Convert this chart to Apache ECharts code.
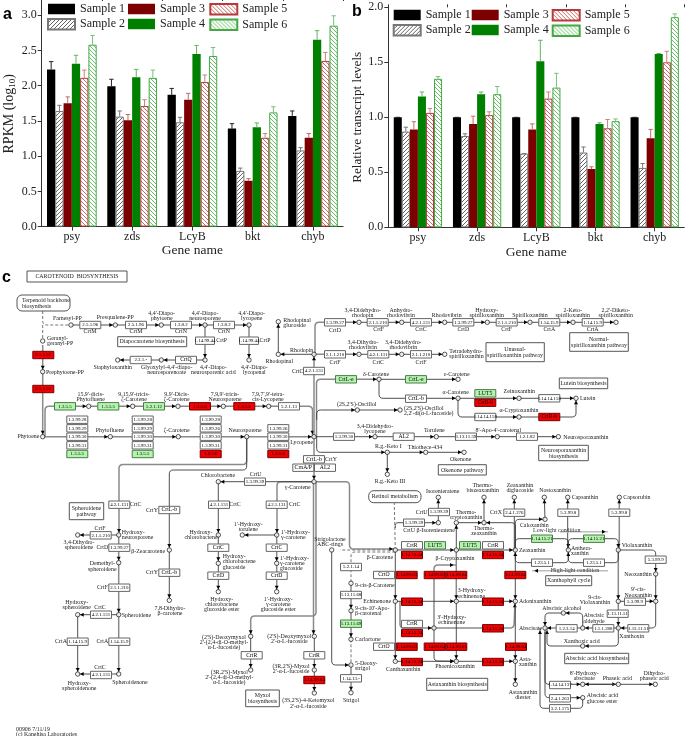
<!DOCTYPE html>
<html><head><meta charset="utf-8">
<style>html,body{margin:0;padding:0;background:#fff}#c{width:685px;height:736px}</style>
<script src="https://cdn.jsdelivr.net/npm/echarts@6/dist/echarts.min.js"></script>
</head><body><div id="c"></div>
<script>
const genes=['psy','zds','LcyB','bkt','chyb'];
const sampleNames=['Sample 1','Sample 2','Sample 3','Sample 4','Sample 5','Sample 6'];
// Panel a: RPKM (log10) means and the top of each error bar
const rpkmS1=[2.23,1.99,1.87,1.39,1.57], rpkmS1Top=[2.34,2.09,1.96,1.46,1.64];
const rpkmS2=[1.64,1.56,1.48,0.79,1.08], rpkmS2Top=[1.72,1.64,1.55,0.83,1.12];
const rpkmS3=[1.75,1.51,1.80,0.65,1.26], rpkmS3Top=[1.84,1.59,1.89,0.68,1.32];
const rpkmS4=[2.31,2.12,2.45,1.41,2.65], rpkmS4Top=[2.43,2.23,2.57,1.47,2.78];
const rpkmS5=[2.11,1.71,2.05,1.26,2.35], rpkmS5Top=[2.22,1.80,2.15,1.32,2.47];
const rpkmS6=[2.58,2.11,2.42,1.62,2.85], rpkmS6Top=[2.71,2.22,2.54,1.70,2.99];
// Panel b: relative transcript levels
const relS1=[1,1,1,1,1], relS1Top=[1,1,1,1,1];
const relS2=[0.87,0.83,0.67,0.68,0.54], relS2Top=[0.91,0.85,0.67,0.73,0.58];
const relS3=[0.89,0.94,0.89,0.53,0.81], relS3Top=[0.96,1.01,0.94,0.55,0.89];
const relS4=[1.19,1.21,1.51,0.94,1.575], relS4Top=[1.23,1.23,1.70,0.95,1.58];
const relS5=[1.04,1.02,1.17,0.90,1.50], relS5Top=[1.08,1.05,1.23,0.98,1.60];
const relS6=[1.35,1.21,1.27,0.965,1.91], relS6Top=[1.37,1.28,1.40,0.985,1.94];
const rpkmMeans=[rpkmS1,rpkmS2,rpkmS3,rpkmS4,rpkmS5,rpkmS6], rpkmTops=[rpkmS1Top,rpkmS2Top,rpkmS3Top,rpkmS4Top,rpkmS5Top,rpkmS6Top];
const relMeans=[relS1,relS2,relS3,relS4,relS5,relS6], relTops=[relS1Top,relS2Top,relS3Top,relS4Top,relS5Top,relS6Top];

// Panel c: KEGG map layout, in map units
const whiteEnzymes=[[90.3,325,'2.5.1.96'],[136,325,'2.5.1.96'],[181,325,'1.3.8.2'],[224,325,'1.3.8.2'],[205,340.7,'1.14.99.44'],[249,340.7,'1.14.99.44'],[140.7,360,'2.3.1.-'],[186,360,'CrtQ'],[289,406.3,'5.2.1.13'],
[77.3,419.7,'1.3.99.28'],[77.3,428.3,'1.3.99.29'],[77.3,436.7,'1.3.99.30'],[77.3,445.3,'1.3.99.31'],[142.7,419.7,'1.3.99.28'],[142.7,428.3,'1.3.99.29'],[142.7,436.7,'1.3.99.30'],[142.7,445.3,'1.3.99.31'],
[210.7,419.7,'1.3.99.28'],[210.7,428.3,'1.3.99.26'],[210.7,436.7,'1.3.99.30'],[210.7,445.3,'1.3.99.31'],[278.3,428.3,'1.3.99.26'],[278.3,436.7,'1.3.99.30'],[278.3,445.3,'1.3.99.31'],[344,436.7,'1.3.99.30'],
[314,459.3,'CrtL-b'],[303.3,467.7,'CrnA/P'],[325,467.7,'AL2'],[255,481.7,'1.3.99.39'],[335,322.3,'1.3.99.27'],[335,354.3,'2.1.1.210'],[314,371,'4.2.1.131'],
[377.7,322.3,'2.1.1.210'],[421,322.3,'4.2.1.131'],[463.3,322.3,'1.3.99.27'],[506.7,322.3,'2.1.1.210'],[549.3,322.3,'1.14.15.9'],[592.7,322.3,'1.14.15.9'],[378.3,354.3,'4.2.1.131'],[421,354.3,'2.1.1.210'],
[416,398.7,'CrtL-b'],[485.3,417,'1.14.14.158'],[549.3,398.3,'1.14.14.158'],[403.7,436.7,'AL2'],[466,436.7,'1.13.11.59'],[527,436.7,'1.2.1.82'],
[119.3,504.7,'4.2.1.131'],[169.3,510,'CrtL-b'],[219,504.7,'4.2.1.131'],[276.7,504.7,'4.2.1.131'],[100.7,535.3,'2.1.1.210'],[119.3,547.7,'1.3.99.27'],[218.3,547.7,'CrtC'],[276.7,547.7,'CrtC'],[218.3,575.7,'CrtD'],[276.7,575.7,'CrtD'],[169.3,572.7,'CrtL-b'],[119.3,587.7,'2.1.1.210'],[101,614.7,'4.2.1.131'],[77.7,641.7,'1.14.15.9'],[119.3,641.7,'1.14.15.9'],[101,675,'4.2.1.131'],[251.7,655.3,'CrtR'],[314.3,655.3,'CrtR'],
[439,512,'1.3.99.39'],[414,522.7,'1.3.99.39'],[514.3,512.7,'2.4.1.276'],[568.3,512.7,'5.3.99.8'],[619.3,512.7,'5.3.99.8'],[412,545.3,'CrtR'],[493,545.3,'CrtR'],[542,562.7,'1.23.5.1'],[594,562.7,'1.23.5.1'],[655.7,559.7,'5.3.99.9'],[384,575,'CrtO'],[351,567,'5.2.1.14'],[351,595,'1.13.11.68'],[635,601.7,'5.3.99.9'],[617.7,613.7,'1.13.11.51'],[412,624,'CrtR'],[566.7,628.3,'1.2.3.14'],[603.3,628.3,'1.1.1.288'],[638.3,628.3,'1.13.11.51'],[384,646.7,'CrtO'],[351,678.3,'1.14.13.-'],[560,685,'1.14.14.137'],[560,698.3,'2.4.1.263'],[560,708.3,'3.2.1.175']];
const greenEnzymes=[[65,406.3,'1.3.5.5'],[108.3,406.3,'1.3.5.5'],[154,406.3,'5.2.1.12'],[77.3,454,'1.3.5.5'],[142.7,454,'1.3.5.5'],[346,379.3,'CrtL-e'],[416,379.3,'CrtL-e'],[485.3,393.3,'LUT5'],[435,545.3,'LUT5'],[470,545.3,'LUT5'],[542,538.7,'1.14.15.21'],[594,538.7,'1.14.15.21'],[351,623.7,'1.13.11.69']];
const redEnzymes=[[43.3,355,'2.5.1.32'],[43.3,389,'2.5.1.32'],[200,406.3,'1.3.5.6'],[244.3,406.3,'1.3.5.6'],[210.7,454,'1.3.5.6'],[278.3,454,'1.3.5.6'],[485.3,402.7,'CrtR-b'],[549.3,417,'CrtR-b'],[314.3,680,'1.14.99.64'],
[412,555,'1.14.15.24'],[493,555,'1.14.15.24'],[406.7,575,'1.14.99.63'],[434.7,575,'1.14.99.63'],[456.3,575,'1.14.99.64'],[515.3,575,'1.14.99.64'],[412,601.7,'1.14.15.24'],[493,601.7,'1.14.15.24'],[412,633,'1.14.15.24'],[493,628.3,'1.14.15.24'],[406.7,646.7,'1.14.99.63'],[434.7,646.7,'1.14.99.64'],[456.3,646.7,'1.14.99.63'],[516,646.7,'1.14.99.64'],[412,662,'1.14.15.24'],[493,662,'1.14.15.24']];
// [left, top, right, bottom]
const mapBoxes=[[27,271,127,282],[117.7,336.7,186.7,346.7],[486,342.7,544.3,361.7],[569.7,332.7,628.3,351.3],[559.3,378,607.7,388.7],[538.7,445.3,588.3,460.7],[438.3,464.7,486.3,475],[69.3,502.7,103.7,519.7],[245.7,690,279.3,706.7],[545.7,575.7,591.7,585.7],[426.7,678.3,487.7,690.3],[564.7,653.3,628.7,663.7]];
const mapRounded=[[17,295,70,311],[368.7,490.7,421,502.7]];
const centerLabels=[[77,276.5,'CAROTENOID  BIOSYNTHESIS'],[152,341.7,'Diapocarotene biosynthesis'],[515,349,'Unusual-'],[515,355,'spirilloxanthin pathway'],[599,339,'Normal-'],[599,345,'spirilloxanthin pathway'],[583.5,383.3,'Lutein biosynthesis'],[563.5,450,'Neurosporaxanthin'],[563.5,456,'biosynthesis'],[462.3,470,'Okenone pathway'],[86.5,508,'Spheroidene'],[86.5,514,'pathway'],[262.5,695.5,'Myxol'],[262.5,701.5,'biosynthesis'],[568.7,580.7,'Xanthophyll cycle'],[457.2,684.3,'Astaxanthin biosynthesis'],[596.7,658.5,'Abscisic acid biosynthesis'],[394.8,496.7,'Retinol metabolism'],
[90,331.7,'CrtM'],[136,331.7,'CrtM'],[181,331.7,'CrtN'],[224,331.7,'CrtN'],[221.7,340.7,'CrtP'],[265,340.7,'CrtP'],[331,459.3,'CrtY'],[255.7,474,'CrtU'],[335,330,'CrtD'],[335,362.3,'CrtF'],[297.7,371,'CrtC'],[378.7,329.7,'CrtF'],[421,329.7,'CrtC'],[463.3,329.7,'CrtD'],[506.7,329.7,'CrtF'],[549.3,329.7,'CrtA'],[592.7,329.7,'CrtA'],[378.3,362.3,'CrtC'],[421,362.3,'CrtF'],
[135.7,504.7,'CrtC'],[152,510,'CrtY'],[235,504.7,'CrtC'],[294.7,504.7,'CrtC'],[100,528,'CrtF'],[102.3,547.7,'CrtD'],[152,572.7,'CrtY'],[102.3,587.7,'CrtF'],[100,607.3,'CrtC'],[61,641.7,'CrtA'],[102.3,641.7,'CrtA'],[100,667.7,'CrtC'],[421.7,512,'CrtU'],[429,530,'CrtU β-Isorenieratene'],[496,512.7,'CrtX'],
[67.3,318.3,'Farnesyl-PP'],[115.3,317.7,'Presqualene-PP'],[161.7,313.3,"4,4'-Diapo-"],[161.7,318.3,'phytoene'],[205,313.3,"4,4'-Diapo-"],[205,318.3,'neurosporene'],[251.7,313.3,"4,4'-Diapo-"],[251.7,318.3,'lycopene'],
[112.7,367.7,'Staphyloxanthin'],[166.7,367.7,"Glyoxylyl-4,4'-diapo-"],[166.7,372.7,'neurosporenoate'],[213.3,367.7,"4,4'-Diapo-"],[213.3,372.7,'neurosporenic acid'],[254.3,367.7,"4,4'-Diapo-"],[254.3,372.7,'lycopenal'],
[90.7,394.3,"15,9'-dicis-"],[90.7,399.3,'Phytofluene'],[134,394.3,"9,15,9'-tricis-"],[134,399.3,'ζ-Carotene'],[176.7,394.3,"9,9'-Dicis-"],[176.7,399.3,'ζ-Carotene'],[225,394.3,"7,9,9'-tricis-"],[225,399.3,'Neurosporene'],[268,394.3,"7,9,7',9'-tetra-"],[268,399.3,'cis-Lycopene'],
[110,430,'Phytofluene'],[176.7,430,'ζ-Carotene'],[245,430,'Neurosporene'],[301.7,442.3,'Lycopene'],[375,426,'3,4-Didehydro-'],[375,431,'lycopene'],[434.3,430.7,'Torulene'],[498.3,430,"8'-Apo-4'-carotenal"],[301.7,350,'Rhodopin'],[279.3,361.7,'Rhodopinal'],
[363,342.7,'3,4-Dihydro-'],[363,347.7,'rhodovibrin'],[403.3,342.7,'3,4-Didehydro-'],[403.3,347.7,'rhodovibrin'],[362.7,310.3,'3,4-Didehydro-'],[362.7,315.7,'rhodopin'],[401,310.3,'Anhydro-'],[401,315.7,'rhodovibrin'],[446.7,315,'Rhodovibrin'],[486.7,310,'Hydroxy-'],[486.7,315,'spirilloxanthin'],[530,315,'Spirilloxanthin'],[572.7,310,'2-Keto-'],[572.7,315,'spirilloxanthin'],[615.7,310,"2,2'-Diketo-"],[615.7,315,'spirilloxanthin'],
[376,374,'δ-Carotene'],[456.7,374,'ε-Carotene'],[455.7,392,'α-Carotene'],[519.3,391.7,'Zeinoxanthin'],[519,410.3,'α-Cryptoxanthin'],[356.7,404,"(2S,2'S)-Oscillol"],[388.3,446.3,'R.g.-Keto I'],[425,447,'Thiothece-434'],[460.7,459,'Okenone'],[390,481.7,'R.g.-Keto III'],
[218,475.7,'Chlorobactene'],[297.7,487.3,'γ-Carotene'],[201,532.7,'Hydroxy-'],[201,537.7,'chlorobactene'],[248.3,524,"1'-Hydroxy-"],[248.3,529,'torulene'],[221.7,599.3,'Hydroxy-'],[221.7,604.3,'chlorobactene'],[221.7,609.3,'glucoside ester'],[278.3,599.3,"1'-Hydroxy-"],[278.3,604.3,'γ-carotene'],[278.3,609.3,'glucoside ester'],
[79,542.7,'3,4-Dihydro-'],[79,547.7,'spheroidene'],[102.3,563.3,'Demethyl-'],[102.3,569,'spheroidene'],[76.7,602.7,'Hydroxy-'],[76.7,607.7,'spheroidene'],[130,682.7,'Spheroidenone'],[79.3,683,'Hydroxy-'],[79.3,688.3,'spheroidenone'],[170,608,'7,8-Dihydro-'],[170,613.3,'β-carotene'],
[224,637.3,"(2'S)-Deoxymyxol"],[224,642.3,"2'-(2,4-di-O-methyl-"],[224,647.3,'α-L-fucoside)'],[229.3,672.3,"(3R,2'S)-Myxol"],[229.3,677.3,"2'-(2,4-di-O-methyl-"],[229.3,682.3,'α-L-fucoside)'],[289.3,636,"(2'S)-Deoxymyxol"],[289.3,641,"2'-α-L-fucoside"],[291,666.7,"(3R,2'S)-Myxol"],[291,671.7,"2'-α-L-fucoside"],[308.3,700.7,"(3S,2'S)-4-Ketomyxol"],[308.3,706,"2'-α-L-fucoside"],
[330,539,'Strigolactone'],[330,544,'ABC-rings'],[351,700.7,'Strigol'],[455,558.3,'β-Cryptoxanthin'],[471.7,590.7,'3-Hydroxy-'],[471.7,596,'echinenone'],[451.7,617.3,"3'-Hydroxy-"],[451.7,622.7,'echinenone'],[403.3,669,'Canthaxanthin'],[455,666.7,'Phoenicoxanthin'],[523,692.3,'Astaxanthin'],[523,697.3,'diester'],
[466,512,'Thermo-'],[466,517.3,'cryptoxanthin'],[484,528.3,'Thermo-'],[484,533.3,'zeaxanthin'],[534.3,525,'Caloxanthin'],[442.7,491,'Isorenieratene'],[482.7,485.7,'Thermo-'],[482.7,490.7,'biszeaxanthin'],[520,485.7,'Zeaxanthin'],[520,490.7,'diglucoside'],[555,490,'Nostoxanthin'],
[638.3,589.3,"9'-cis-"],[638.3,595,'Neoxanthin'],[595,597.7,'9-cis-'],[595,602.7,'Violaxanthin'],[631.7,636,'Xanthoxin'],[594,615.7,'Abscisic'],[594,621,'aldehyde'],[561.7,608,'Abscisic alcohol'],[581.7,641,'Xanthoxic acid'],[584.3,673.3,"8'-Hydroxy-"],[584.3,678.7,'abscisate'],[617.3,678.3,'Phaseic acid'],[654.3,673.3,'Dihydro-'],[654.3,678.7,'phaseic acid']];
const leftLabels=[[22,300.7,'Terpenoid backbone'],[22,306,'biosynthesis'],[47,338.3,'Geranyl-'],[47,343.7,'geranyl-PP'],[46,372.3,'Prephytoene-PP'],[283.3,320.7,'Rhodopinal'],[283.3,325.7,'glucoside'],[449.3,351.7,'Tetradehydro-'],[449.3,356.7,'spirilloxanthin'],[580,398.5,'Lutein'],[404,408.3,"(2S,2'S)-Oscillol"],[404,413.3,"2,2'-di(α-L-fucoside)"],[563.3,437,'Neurosporaxanthin'],
[121.7,532.3,'Hydroxy-'],[121.7,537.7,'neurosporene'],[222.7,556.7,'Hydroxy-'],[222.7,561.7,'chlorobactene'],[222.7,567.3,'glucoside'],[281,532,"1'-Hydroxy-"],[281,537.3,'γ-carotene'],[280,558.3,"1'-Hydroxy-"],[280,563.3,'γ-carotene'],[280,568.3,'glucoside'],[121.7,615,'Spheroidene'],
[355,585,'9-cis-β-Carotene'],[355,608.3,"9-cis-10'-Apo-"],[355,613.7,'β-carotenal'],[355,639.5,'Carlactone'],[355,663,'5-Deoxy-'],[355,668.3,'strigol'],[519,550.7,'Zeaxanthin'],[519,601.8,'Adonixanthin'],[519,659,'Asta-'],[519,664,'xanthin'],[571,548.3,'Anthera-'],[571,553.3,'xanthin'],[621.7,545.7,'Violaxanthin'],[571.7,497.5,'Capsanthin'],[623.3,497.5,'Capsorubin'],[586.7,695.7,'Abscisic acid'],[586.7,701,'glucose ester']];
const rightLabels=[[39.3,436.7,'Phytoene'],[165,551.5,'β-Zeacarotene'],[393,557.3,'β-Carotene'],[391,601,'Echinenone'],[651.7,574,'Neoxanthin'],[542,628,'Abscisate']];
const footerLabels=[[16,729,'00906 7/11/19'],[16,734,'(c) Kanehisa Laboratories']];
const greyLabels=[[556.7,530.7,'Low-light condition'],[575,570.7,'High-light condition']];

const metabolites=[[71,325],[115.3,325],[161.3,325],[205,325],[249,325],[42.7,341],[205,360],[249,360],[161.3,360],[117.7,360],[42.7,371.7],[42.7,436.7],[88.7,406.3],[132.7,406.3],[178,406.3],[223.3,406.3],[268.7,406.3],[110.3,436.7],[178.3,436.7],[246.7,436.7],[314,436.7],[375,436.7],[436.3,436.7],[497.3,436.7],[558.3,436.7],[314,354.3],[359,354.3],[401.7,354.3],[444.7,354.3],[278.3,354.3],[278.3,321.7],[359,322.3],[401.7,322.3],[444.7,322.3],[487.3,322.3],[530,322.3],[573,322.3],[616,322.3],[379,379.3],[458,379.3],[458,398.3],[519,398.3],[576,398.3],[519,417],[357.3,410],[400,410],[387.3,452.3],[425.7,452.3],[464,452.3],[387.3,474.3],[314,481.7],[218.3,481.7],
[218.3,535],[218.3,563.3],[218.3,591.7],[276.7,535],[242.3,535],[276.7,563.3],[276.7,591.7],[118.7,535],[77.7,535],[118.7,562.7],[118.7,614.7],[77.7,614.7],[118.7,674],[77.7,674],[169.3,550],[169.3,600.3],[250.7,636.3],[250.7,670],[314.3,636.3],[314.3,670],[314.3,693],[331.7,550],[395.3,550],[351,583.3],[351,610.7],[351,639.3],[351,665],[351,692.7],[456.3,550],[515.3,550],[395.3,601.3],[456.3,601.3],[515.3,601.3],[434,628],[395.3,661.3],[456.3,661.3],[515.3,661.3],[515.3,684.3],[456.3,522.7],[484,522.7],[438.3,522.7],[545,519.3],[438.3,497.3],[484,497.3],[514.3,497.3],[544.3,497.3],[567.7,497.3],[619.3,497.3],[568.3,550],[618.3,550],[655.7,574],[655.7,601.3],[618.3,601.3],[618.3,628],[582.7,628],[545,628],[563.3,613],[582.7,646],[582.7,684.3],[618.3,684.3],[655.3,684.3],[582.7,697.7]];

// each polyline is a list of x,y pairs through the map
const arrowLines=[[71,325,115.3,325],[115.3,325,161.3,325],[161.3,325,205,325],[205,325,249,325],[205,325,205,360],[249,325,249,360],[205,360,161.3,360],[161.3,360,117.7,360],
[314,354.3,278.3,354.3],[278.3,354.3,278.3,321.7],[359,354.3,401.7,354.3],[401.7,354.3,444.7,354.3],[359,322.3,401.7,322.3],[401.7,322.3,444.7,322.3],[444.7,322.3,487.3,322.3],[487.3,322.3,530,322.3],[530,322.3,573,322.3],[573,322.3,616,322.3],
[379,379.3,458,379.3],[379,379.3,379,398.3,458,398.3],[458,398.3,519,398.3],[519,398.3,576,398.3],[458,398.3,458,417,519,417],[519,417,576,417,576,398.3],[357.3,410,400,410],[316.7,420,316.7,410,357.3,410],
[314,436.7,375,436.7],[375,436.7,436.3,436.7],[436.3,436.7,497.3,436.7],[497.3,436.7,558.3,436.7],[316.7,436.7,316.7,452.3,387.3,452.3],[387.3,452.3,425.7,452.3],[425.7,452.3,464,452.3],[387.3,452.3,387.3,474.3],
[314,481.7,218.3,481.7],[218.3,481.7,218.3,535],[218.3,535,218.3,563.3],[218.3,563.3,218.3,591.7],[276.7,535,242.3,535],[246.7,436.7,246.7,470,169.3,470,169.3,550],[169.3,550,169.3,600.3],
[118.7,535,77.7,535],[118.7,614.7,77.7,614.7],[118.7,674,77.7,674],[77.7,614.7,77.7,674],[250.7,636.3,250.7,670],[314.3,636.3,314.3,670],[314.3,670,314.3,693],
[331.7,550,331.7,665,351,665],[395.3,601.3,456.3,601.3],[456.3,601.3,515.3,601.3],[395.3,661.3,456.3,661.3],[456.3,661.3,515.3,661.3],[515.3,661.3,515.3,684.3],[456.3,601.3,456.3,661.3],[395.3,550,395.3,601.3],[395.3,601.3,395.3,661.3],[515.3,550,515.3,601.3],[515.3,601.3,515.3,661.3],[456.3,550,515.3,550],
[434,628,434,661,456.3,661.3],[395.3,528,395.3,522.7,438.3,522.7],[456.3,550,456.3,522.7],[456.3,522.7,484,522.7],[515.3,550,515.3,522.7,484,522.7],[515.3,550,515.3,519.3,545,519.3],[438.3,522.7,438.3,497.3],[484,522.7,484,497.3],[514.3,550,514.3,497.3],[545,519.3,544.3,497.3],[567.7,550,567.7,497.3],
[515.3,550,515.3,538.7,568.3,538.7,568.3,550],[568.3,550,568.3,562.7,515.3,562.7,515.3,550],[568.3,550,568.3,538.7,618.3,538.7,618.3,550],[618.3,550,618.3,562.7,568.3,562.7,568.3,550],[618.3,550,655.7,550,655.7,574],[655.7,574,655.7,601.3],[618.3,601.3,655.7,601.3],[655.7,601.3,655.7,628,618.3,628],[618.3,628,582.7,628],[582.7,628,545,628],[582.7,628,582.7,613,563.3,613],[563.3,613,545,613,545,628],[618.3,628,618.3,646,582.7,646],[582.7,646,547,646,547,628],[545,628,545,684.3,582.7,684.3],[582.7,684.3,618.3,684.3],[618.3,684.3,582.7,684.3],[618.3,684.3,655.3,684.3],[545,632,545,697.7,582.7,697.7],[582.7,697.7,582.7,708.3,540,708.3,540,628],[351,583.3,351,610.7],[351,610.7,351,639.3],[351,665,351,692.7]];
const heavyLines=[[42.7,345,42.7,371.7],[42.7,371.7,42.7,436.7],[45,436.7,45,406.3,88.7,406.3],[88.7,406.3,132.7,406.3],[132.7,406.3,178,406.3],[178,406.3,223.3,406.3],[223.3,406.3,268.7,406.3],[268.7,406.3,312.5,406.3,312.5,436.7],
[42.7,436.7,110.3,436.7],[110.3,436.7,178.3,436.7],[178.3,436.7,246.7,436.7],[246.7,436.7,314,436.7],[314,436.7,314,354.3],[314,354.3,359,354.3],[315,354.3,315,322.3,359,322.3],[316.5,436.7,316.5,379.3,379,379.3],[314,436.7,314,481.7],[246.7,436.7,246.7,464.5,119,464.5,119,535],[118.7,535,118.7,562.7],[118.7,562.7,118.7,614.7],[118.7,614.7,118.7,674],[314,481.7,277,481.7,277,535],[276.7,535,276.7,563.3],[276.7,563.3,276.7,591.7],[316,481.7,316,616,250.7,616,250.7,636.3],[313.5,481.7,313.5,636.3],[314,481.7,349.5,481.7,349.5,549,395.3,549],
[395.3,550,456.3,550],[400,601.3,400,628,434,628],[434,628,514,628,515,601.3],[434,628,434,565,456,565],[456.3,550,456.3,601.3],[619.3,550,619.3,497.3],[618.3,550,618.3,601.3],[618.3,601.3,618.3,628]];
const dashedLines=[[42.7,311,42.7,325,71,325],[42.7,325,42.7,341],[395.3,550,394.3,503],[395.3,550,340,550],[395.3,552,351,552,351,583.3],[351,639.3,351,665]];
const ruleArrows=[[560,531.7,608,531.7],[608,570.7,532,570.7]];
const labelFont='5.9px "Liberation Serif"';
const codeFont='4.9px "Liberation Serif"';
const nameFont='5.7px "Liberation Serif"';
const serif='"Liberation Serif"';
const bandFill=0.824, bandFillB=0.816;

function hatch(color,back){
  const s=4,c=document.createElement('canvas');c.width=c.height=s;const g=c.getContext('2d');
  g.fillStyle='#fff';g.fillRect(0,0,s,s);g.strokeStyle=color;g.lineWidth=1;
  const L=(a,b,d,e)=>{g.beginPath();g.moveTo(a,b);g.lineTo(d,e);g.stroke();};
  if(back){L(-1,-1,s+1,s+1);L(-1,s-1,1,s+1);L(s-1,-1,s+1,1);}
  else{L(-1,s+1,s+1,-1);L(-1,1,1,-1);L(s-1,s+1,s+1,s-1);}
  return {image:c,repeat:'repeat'};
}
const styles=[
 {color:'#000',borderColor:'#000',borderWidth:0},
 {color:hatch('#666',false),borderColor:'#777',borderWidth:1},
 {color:'#7d0000',borderColor:'#7d0000',borderWidth:0},
 {color:'#008000',borderColor:'#008000',borderWidth:0},
 {color:hatch('#c96a6a',true),borderColor:'#b53a3a',borderWidth:1},
 {color:hatch('#6cc06c',true),borderColor:'#45a845',borderWidth:1}];
const errColors=['#222','#777','#c46a6a','#63b463','#cf8080','#79c079'];

const el=document.getElementById('c');
const chart=echarts.init(el,null,{renderer:'canvas',width:685,height:736});

function barSeries(means,xi,yi,gap){
  return means.map((v,j)=>({type:'bar',name:sampleNames[j],xAxisIndex:xi,yAxisIndex:yi,data:v,barGap:0,barCategoryGap:gap,itemStyle:styles[j],silent:true}));
}
function errSeries(means,tops,xi,yi,fill){
  const d=[];means.forEach((m,j)=>m.forEach((v,i)=>d.push([i,v,tops[j][i],j])));
  return {type:'custom',xAxisIndex:xi,yAxisIndex:yi,data:d,silent:true,z:5,encode:{x:0,y:1},
   renderItem(p,api){
     const i=api.value(0),j=api.value(3);
     const band=api.size([1,0])[0],w=band*fill/6;
     const a=api.coord([i,api.value(1)]),b=api.coord([i,api.value(2)]);
     const x=a[0]+(j-2.5)*w;
     return {type:'group',children:[
       {type:'line',shape:{x1:x,y1:a[1],x2:x,y2:b[1]},style:{stroke:errColors[j],lineWidth:1}},
       {type:'line',shape:{x1:x-2.2,y1:b[1],x2:x+2.2,y2:b[1]},style:{stroke:errColors[j],lineWidth:1}}]};
   }};
}
function legendColumn(names,left,top){
  return {show:true,orient:'vertical',left,top,padding:0,icon:'rect',data:names,selectedMode:false,itemWidth:27,itemHeight:10.5,itemGap:3,
    textStyle:{fontFamily:serif,fontSize:12,color:'#222',padding:[0,0,0,0]}};
}
function catAxes(grid,labelMargin,nameGap){
  const line={lineStyle:{color:'#333',width:1}};
  return [
   {type:'category',gridIndex:grid,data:genes,axisLine:line,axisTick:{show:true,alignWithLabel:true,length:4,lineStyle:line.lineStyle},
    axisLabel:{fontFamily:serif,fontSize:12,color:'#222',margin:labelMargin},name:'Gene name',nameLocation:'middle',nameGap,nameTextStyle:{fontFamily:serif,fontSize:13.5,color:'#222'}},
   {type:'category',gridIndex:grid,data:genes,axisLine:{show:false},axisTick:{show:true,length:3,lineStyle:line.lineStyle},axisLabel:{show:false}}];
}
function valAxis(grid,max,ticks,name,nameGap,nameSize){
  return {type:'value',gridIndex:grid,min:0,max,interval:0.5,splitLine:{show:false},
    axisLine:{show:true,lineStyle:{color:'#333',width:1}},
    axisTick:{show:true,length:4,customValues:ticks,lineStyle:{color:'#333'}},
    axisLabel:{fontFamily:serif,fontSize:12,color:'#222',margin:5,customValues:ticks,formatter:v=>v.toFixed(1)},
    name,nameLocation:'middle',nameGap,
    nameTextStyle:{fontFamily:serif,fontSize:nameSize,color:'#222',rich:{sub:{fontFamily:serif,fontSize:9,color:'#222',padding:[6,0,0,0]}}}};
}
// ---- panel c renderers
const wrap=(arr,x0,fn,z)=>({type:'custom',xAxisIndex:4,yAxisIndex:2,silent:true,clip:false,z:z||2,
  data:arr.map((r,i)=>[r[0],r[1],i]),encode:{x:0,y:1},renderItem:(p,api)=>fn(arr[api.value(2)],api)});
function rounded(pts,r){
  const out=[[pts[0],pts[1]]];
  for(let k=2;k<pts.length-2;k+=2){
    const ax=pts[k-2],ay=pts[k-1],bx=pts[k],by=pts[k+1],cx=pts[k+2],cy=pts[k+3];
    const d1=Math.hypot(ax-bx,ay-by),d2=Math.hypot(cx-bx,cy-by),q=Math.min(r,d1/2,d2/2);
    const p1=[bx+(ax-bx)*q/d1,by+(ay-by)*q/d1],p2=[bx+(cx-bx)*q/d2,by+(cy-by)*q/d2];
    for(let t=0;t<=1.001;t+=0.25){const u=1-t;out.push([u*u*p1[0]+2*u*t*bx+t*t*p2[0],u*u*p1[1]+2*u*t*by+t*t*p2[1]]);}
  }
  out.push([pts[pts.length-2],pts[pts.length-1]]);
  return out;
}
function lineItem(color,width,dash,arrow){
  return (pts,api)=>{
    const path=rounded(pts,4).map(q=>api.coord(q));
    const kids=[{type:'polyline',shape:{points:path},style:{stroke:color,lineWidth:width,fill:'none',lineDash:dash||null}}];
    if(arrow){
      const a=path[path.length-2],b=path[path.length-1],L=Math.hypot(b[0]-a[0],b[1]-a[1])||1,ux=(b[0]-a[0])/L,uy=(b[1]-a[1])/L;
      const tx=b[0]-ux*2.4,ty=b[1]-uy*2.4,bx=tx-ux*3.6,by=ty-uy*3.6;
      kids.push({type:'polygon',shape:{points:[[tx,ty],[bx-uy*2,by+ux*2],[bx+uy*2,by-ux*2]]},style:{fill:'#000'}});
    }
    return {type:'group',children:kids};
  };
}
function enzyme(fill,stroke,text){
  return (r,api)=>{
    const c=api.coord([r[0],r[1]]),narrow=r[2]==='1.14.99.44';
    const w=narrow?19:21,h=7.4,isCode=/^\d/.test(r[2]);
    return {type:'group',children:[
      {type:'rect',shape:{x:c[0]-w/2,y:c[1]-h/2,width:w,height:h},style:{fill,stroke,lineWidth:1}},
      {type:'text',style:{text:r[2],x:c[0],y:c[1],fill:text,font:isCode?codeFont:nameFont,align:'center',verticalAlign:'middle'}}]};
  };
}
function txt(align,color){
  return (r,api)=>{const c=api.coord([r[0],r[1]]);
    return {type:'text',style:{text:r[2],x:c[0],y:c[1],fill:color||'#222',font:labelFont,align,verticalAlign:'middle'}};};
}
function box(radius,stroke){
  return (r,api)=>{const a=api.coord([r[0],r[1]]),b=api.coord([r[2],r[3]]);
    return {type:'rect',shape:{x:a[0],y:a[1],width:b[0]-a[0],height:b[1]-a[1],r:radius},style:{fill:'#fff',stroke,lineWidth:1}};};
}

const panelTitle=(text,left,top)=>({text,left,top,padding:0,textStyle:{fontFamily:'"Liberation Sans"',fontWeight:'bold',fontSize:16,color:'#000'}});
const ticksA=[0,0.5,1,1.5,2,2.5,3], ticksB=[0,0.5,1,1.5,2];
const option={
  animation:false,backgroundColor:'#fff',
  textStyle:{fontFamily:serif},
  title:[panelTitle('a',3,7),panelTitle('b',352,4),panelTitle('c',2,270)],
  legend:[
   legendColumn(['Sample 1','Sample 2'],47,3),legendColumn(['Sample 3','Sample 4'],128,3),legendColumn(['Sample 5','Sample 6'],209.3,3),
   legendColumn(['Sample 1','Sample 2'],392.7,9),legendColumn(['Sample 3','Sample 4'],471.7,9),legendColumn(['Sample 5','Sample 6'],551.7,9)],
  grid:[
   {left:41.7,top:1,width:301.4,height:225.6},
   {left:388.3,top:7.3,width:296,height:220},
   {left:0,top:0,width:685,height:736}],
  xAxis:[...catAxes(0,4,16),...catAxes(1,5,18),
   {type:'value',gridIndex:2,min:0,max:685,show:false}],
  yAxis:[valAxis(0,3.2,ticksA,'RPKM (log{sub|10})',25,14),valAxis(1,2,ticksB,'Relative transcript levels',23.5,13.2),
   {type:'value',gridIndex:2,min:0,max:736,inverse:true,show:false}],
  series:[
   ...barSeries(rpkmMeans,0,0,'17.6%'),errSeries(rpkmMeans,rpkmTops,0,0,bandFill),
   ...barSeries(relMeans,2,1,'18.4%'),errSeries(relMeans,relTops,2,1,bandFillB),
   wrap(heavyLines,0,lineItem('#8a8a8a',1.5,null,true),2),
   wrap(arrowLines,0,lineItem('#3c3c3c',0.9,null,true),3),
   wrap(dashedLines,0,lineItem('#666',0.9,[3,2],false),3),
   wrap(ruleArrows,0,lineItem('#bdbdbd',1.4,null,true),3),
   wrap(mapBoxes,0,box(0,'#555'),4),
   wrap(mapRounded,0,box(5,'#555'),4),
   wrap(whiteEnzymes,0,enzyme('#fff','#666','#000'),5),
   wrap(greenEnzymes,0,enzyme('#b4f5ae','#4a7d4a','#000'),5),
   wrap(redEnzymes,0,enzyme('#f00000','#7a0000','#100'),5),
   {type:'scatter',xAxisIndex:4,yAxisIndex:2,data:metabolites,symbol:'circle',symbolSize:4.4,silent:true,z:6,clip:false,
     itemStyle:{color:'#fff',borderColor:'#111',borderWidth:0.9}},
   wrap(centerLabels,0,txt('center'),7),wrap(leftLabels,0,txt('left'),7),wrap(rightLabels,0,txt('right'),7),wrap(footerLabels,0,txt('left'),7),wrap(greyLabels,0,txt('center','#333'),7)
  ]
};
chart.setOption(option);
</script></body></html>
